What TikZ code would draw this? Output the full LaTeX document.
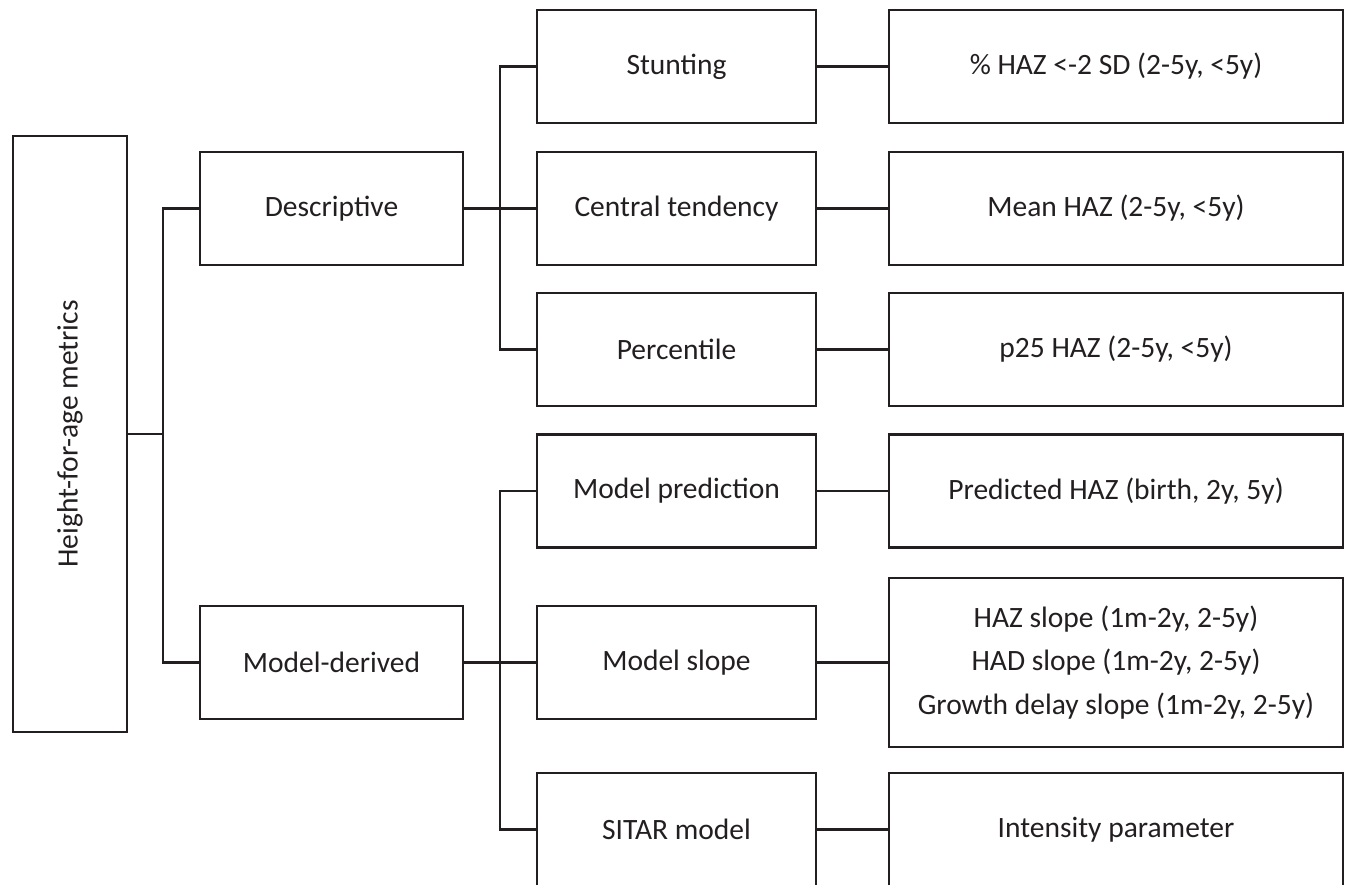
\documentclass[tikz,border=0pt]{standalone}
\usepackage{fontspec}
\setmainfont{Carlito}
\definecolor{ink}{HTML}{231F20}
\begin{document}
\begin{tikzpicture}[x=1pt,y=-1pt,
  box/.style={draw=ink, line width=2.2pt, rectangle, inner sep=0pt, outer sep=0pt,
    text=ink, font=\fontsize{29.5}{43.5}\selectfont, align=center},
  lvl/.style={box, minimum width=263pt, minimum height=113pt},
  mid/.style={box, minimum width=279pt, minimum height=113pt},
  res/.style={box, minimum width=454pt, minimum height=113pt},
  conn/.style={draw=ink, line width=2.2pt}]
\useasboundingbox (0,0) rectangle (1347,884);
% root
\node[box, minimum width=114pt, minimum height=596pt] (root) at (70,434) {};
\node[rotate=90, text=ink, font=\fontsize{29.5}{34}\selectfont, inner sep=0pt] (roottext) at (root.center) {Height-for-age metrics};
% level 1
\node[lvl] (desc) at (331.5,208.5) {Descriptive};
\node[lvl] (modder) at (331.5,662.5) {Model-derived};
% level 2
\node[mid] (stunt) at (676.5,66.5) {Stunting};
\node[mid] (cent) at (676.5,208.5) {Central tendency};
\node[mid] (perc) at (676.5,349.5) {Percentile};
\node[mid] (pred) at (676.5,491) {Model prediction};
\node[mid] (slope) at (676.5,662.5) {Model slope};
\node[mid] (sitar) at (676.5,829.5) {SITAR model};
% level 3
\node[res] (r1) at (1116,66.5) {\% HAZ <-2 SD (2-5y, <5y)};
\node[res] (r2) at (1116,208.5) {Mean HAZ (2-5y, <5y)};
\node[res] (r3) at (1116,349.5) {p25 HAZ (2-5y, <5y)};
\node[res] (r4) at (1116,491) {Predicted HAZ (birth, 2y, 5y)};
\node[res, minimum height=169pt] (r5) at (1116,662.5) {HAZ slope (1m-2y, 2-5y)\\HAD slope (1m-2y, 2-5y)\\Growth delay slope (1m-2y, 2-5y)};
\node[res] (r6) at (1116,829.5) {Intensity parameter};
% connectors
\coordinate (tx) at (163,0);
\coordinate (bx) at (500,0);
\draw[conn] (root.east) -- (root.east -| tx);
\draw[conn] (desc.west) -- (desc.west -| tx) -- (modder.west -| tx) -- (modder.west);
\draw[conn] (stunt.west) -- (stunt.west -| bx) -- (perc.west -| bx) -- (perc.west);
\draw[conn] (desc.east) -- (cent.west);
\draw[conn] (pred.west) -- (pred.west -| bx) -- (sitar.west -| bx) -- (sitar.west);
\draw[conn] (modder.east) -- (slope.west);
\draw[conn] (stunt.east) -- (r1.west);
\draw[conn] (cent.east) -- (r2.west);
\draw[conn] (perc.east) -- (r3.west);
\draw[conn] (pred.east) -- (r4.west);
\draw[conn] (slope.east) -- (r5.west);
\draw[conn] (sitar.east) -- (r6.west);
\end{tikzpicture}
\end{document}
